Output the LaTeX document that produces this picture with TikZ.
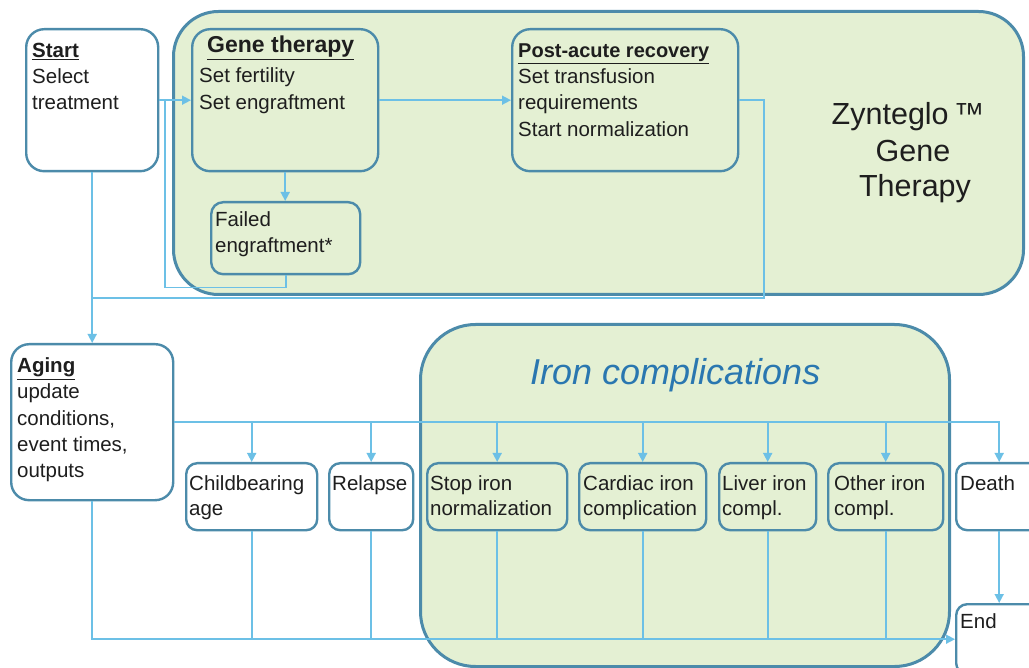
\documentclass[tikz,border=0pt]{standalone}
\usepackage{fontspec}
\setmainfont{Liberation Sans}
\usetikzlibrary{arrows.meta}
\definecolor{boxc}{HTML}{4C8BAA}
\definecolor{grnc}{HTML}{E4F0D3}
\definecolor{lnc}{HTML}{6CC0E6}
\definecolor{ironc}{HTML}{2A77B0}
\definecolor{txtc}{HTML}{1E1E1E}
\tikzset{
  box/.style={draw=boxc, line width=2.4pt, rounded corners=18pt, anchor=north west, inner sep=0pt},
  sbox/.style={box, rounded corners=11pt, minimum height=67pt},
  wbox/.style={fill=white},
  grnbox/.style={draw=boxc, line width=3pt, fill=grnc, anchor=north west, inner sep=0pt},
  conn/.style={draw=lnc, line width=1.6pt},
  arr/.style={conn, -{Triangle[length=9pt,width=9pt]}},
  txt/.style={anchor=base west, inner sep=0pt, text=txtc, font=\fontsize{20.5}{26}\selectfont},
  hd/.style={txt, font=\fontsize{20.5}{26}\selectfont\bfseries},
}
\newcommand\tl[4]{\node[txt] (#1) at (#2,#3) {#4};}
\begin{document}
\begin{tikzpicture}[x=1pt,y=-1pt]
\useasboundingbox (0,0) rectangle (1029,668);
\clip (0,0) rectangle (1029,668);
\fill[white] (0,0) rectangle (1029,668);
% green containers
\node[grnbox, rounded corners=45pt, minimum width=850pt, minimum height=283pt] (zyn) at (172,10) {};
\node[grnbox, rounded corners=55pt, minimum width=529pt, minimum height=342pt] (iron) at (419,323) {};
% boxes
\node[box, wbox, minimum width=132pt, minimum height=142pt] (start) at (25,28) {};
\node[box, minimum width=186pt, minimum height=142pt] (gene) at (191,28) {};
\node[box, rounded corners=12pt, minimum width=149pt, minimum height=72pt] (failed) at (210,201) {};
\node[box, minimum width=226pt, minimum height=142pt] (post) at (511,28) {};
\node[box, wbox, minimum width=162pt, minimum height=156pt] (aging) at (10,343) {};
\node[sbox, wbox, minimum width=131pt] (child) at (185,462) {};
\node[sbox, wbox, minimum width=84pt] (relapse) at (328,462) {};
\node[sbox, minimum width=140pt] (stopiron) at (426,462) {};
\node[sbox, minimum width=127pt] (cardiac) at (578,462) {};
\node[sbox, minimum width=97pt] (liver) at (718,462) {};
\node[sbox, minimum width=115pt] (other) at (827,462) {};
\node[sbox, wbox, minimum width=86pt] (death) at (955,462) {};
\node[sbox, wbox, minimum width=86pt, minimum height=70pt] (end) at (955,603) {};
% connectors (top part)
\coordinate (j1) at (165,99);
\coordinate (p1) at (764,298);
\draw[arr] (start.east) -- (gene.west);
\draw[conn] (failed.south) -- ++(0,12) -| (j1);
\draw[arr] (gene.south) -- (gene.south |- failed.north);
\draw[arr] (gene.east) -- (post.east -| post.west);
\draw[conn] (post.east) -| (p1) -- (p1 -| start.south);
\draw[arr] (start.south) -- (aging.north);
% aging bus
\draw[arr] (aging.east) -| (death.north);
\foreach \b in {child,relapse,stopiron,cardiac,liver,other}
  \draw[arr] (\b.north |- aging.east) -- (\b.north);
% bottom bus
\draw[arr] (aging.south) |- (end.west);
\foreach \b in {child,relapse,stopiron,cardiac,liver,other}
  \draw[conn] (\b.south) -- (\b.south |- end.west);
\draw[arr] (death.south) -- (end.north);
% texts
\node[hd] (tstart) at (32,58) {\underline{Start}};
\tl{ts1}{32}{84}{Select}
\tl{ts2}{32}{110}{treatment}
\node[hd, font=\fontsize{23}{26}\selectfont\bfseries] (tgene) at (207,53) {\underline{Gene therapy}};
\tl{tg1}{199}{83}{Set fertility}
\tl{tg2}{199}{110}{Set engraftment}
\tl{tf1}{215}{227}{Failed}
\tl{tf2}{215}{253}{engraftment*}
\node[hd, font=\fontsize{20}{26}\selectfont\bfseries] (tpost) at (518,58) {\underline{Post-acute recovery}};
\tl{tp1}{518}{84}{Set transfusion}
\tl{tp2}{518}{110}{requirements}
\tl{tp3}{518}{137}{Start normalization}
\node[txt, anchor=base, font=\fontsize{30.5}{36}\selectfont] (z1) at (908,125) {Zynteglo\,™};
\node[txt, anchor=base, font=\fontsize{30.5}{36}\selectfont] (z2) at (913,162) {Gene};
\node[txt, anchor=base, font=\fontsize{30.5}{36}\selectfont] (z3) at (915,197) {Therapy};
\node[hd] (tag) at (17,373) {\underline{Aging}};
\tl{ta1}{17}{399}{update}
\tl{ta2}{17}{425}{conditions,}
\tl{ta3}{17}{452}{event times,}
\tl{ta4}{17}{478}{outputs}
\node[txt, text=ironc, font=\fontsize{36}{40}\selectfont\itshape] (tiron) at (530,385) {Iron complications};
\tl{tc1}{189}{490}{Childbearing}
\tl{tc2}{189}{515}{age}
\tl{tr1}{332}{490}{Relapse}
\tl{tsi1}{430}{490}{Stop iron}
\tl{tsi2}{430}{515}{normalization}
\tl{tca1}{583}{490}{Cardiac iron}
\tl{tca2}{583}{515}{complication}
\tl{tl1}{722}{490}{Liver iron}
\tl{tl2}{722}{515}{compl.}
\tl{to1}{834}{490}{Other iron}
\tl{to2}{834}{515}{compl.}
\tl{td1}{960}{490}{Death}
\tl{te1}{960}{628}{End}
\end{tikzpicture}
\end{document}
